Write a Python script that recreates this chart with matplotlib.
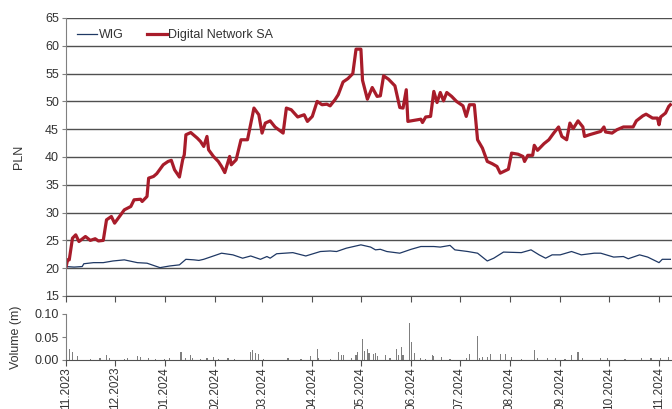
import pandas as pd
import matplotlib
matplotlib.use("Agg")
import matplotlib.pyplot as plt
import matplotlib.dates as mdates

plt.rcParams['font.family'] = ['Liberation Sans', 'DejaVu Sans']

# Digital Network SA (PLN)
dn_dates = [
    "2023-11-01", "2023-11-02", "2023-11-03", "2023-11-05", "2023-11-07", "2023-11-09",
    "2023-11-13", "2023-11-16", "2023-11-19", "2023-11-21", "2023-11-24", "2023-11-26",
    "2023-11-29", "2023-12-01", "2023-12-04", "2023-12-07", "2023-12-11", "2023-12-13",
    "2023-12-17", "2023-12-18", "2023-12-21", "2023-12-22", "2023-12-25", "2023-12-27",
    "2023-12-31", "2024-01-03", "2024-01-05", "2024-01-07", "2024-01-10", "2024-01-12",
    "2024-01-13", "2024-01-14", "2024-01-17", "2024-01-21", "2024-01-23", "2024-01-25",
    "2024-01-27", "2024-01-28", "2024-01-31", "2024-02-03", "2024-02-05", "2024-02-07",
    "2024-02-10", "2024-02-11", "2024-02-14", "2024-02-17", "2024-02-21", "2024-02-25",
    "2024-02-28", "2024-03-01", "2024-03-03", "2024-03-06", "2024-03-09", "2024-03-14",
    "2024-03-16", "2024-03-19", "2024-03-23", "2024-03-27", "2024-03-29", "2024-04-01",
    "2024-04-04", "2024-04-07", "2024-04-10", "2024-04-12", "2024-04-15", "2024-04-17",
    "2024-04-20", "2024-04-23", "2024-04-26", "2024-04-28", "2024-05-01", "2024-05-02",
    "2024-05-05", "2024-05-08", "2024-05-11", "2024-05-13", "2024-05-15", "2024-05-18",
    "2024-05-22", "2024-05-25", "2024-05-27", "2024-05-29", "2024-05-30", "2024-06-07",
    "2024-06-08", "2024-06-10", "2024-06-13", "2024-06-15", "2024-06-17", "2024-06-19",
    "2024-06-21", "2024-06-23", "2024-06-26", "2024-06-29", "2024-07-03", "2024-07-05",
    "2024-07-07", "2024-07-10", "2024-07-12", "2024-07-15", "2024-07-18", "2024-07-21",
    "2024-07-24", "2024-07-26", "2024-07-31", "2024-08-02", "2024-08-06", "2024-08-09",
    "2024-08-10", "2024-08-12", "2024-08-15", "2024-08-16", "2024-08-18", "2024-08-22",
    "2024-08-25", "2024-08-28", "2024-08-31", "2024-09-02", "2024-09-05", "2024-09-07",
    "2024-09-09", "2024-09-12", "2024-09-15", "2024-09-16", "2024-09-19", "2024-09-26",
    "2024-09-28", "2024-09-29", "2024-10-03", "2024-10-06", "2024-10-10", "2024-10-16",
    "2024-10-18", "2024-10-22", "2024-10-24", "2024-10-28", "2024-10-31", "2024-11-01",
    "2024-11-02", "2024-11-05", "2024-11-07", "2024-11-08",
]
dn_values = [
    20.2, 21.5, 21.5, 25.4, 26.0, 24.8,
    25.7, 25.0, 25.3, 24.9, 25.0, 28.7,
    29.3, 28.1, 29.3, 30.5, 31.1, 32.3,
    32.4, 32.0, 32.9, 36.2, 36.5, 37.0,
    38.6, 39.2, 39.4, 37.7, 36.4, 39.5,
    40.4, 44.0, 44.4, 43.4, 42.8, 41.9,
    43.7, 41.3, 40.1, 39.2, 38.3, 37.2,
    40.1, 38.6, 39.5, 43.1, 43.1, 48.8,
    47.6, 44.3, 46.1, 46.5, 45.4, 44.3,
    48.8, 48.5, 47.2, 47.6, 46.4, 47.3,
    50.0, 49.4, 49.5, 49.2, 50.3, 51.2,
    53.5, 54.1, 55.0, 59.4, 59.4, 53.8,
    50.4, 52.5, 50.9, 51.0, 54.6, 54.0,
    52.8, 48.9, 48.8, 52.1, 46.4, 46.8,
    46.2, 47.2, 47.3, 51.8, 49.8, 51.6,
    50.1, 51.6, 50.9, 50.0, 49.2, 47.3,
    49.4, 49.4, 43.1, 41.6, 39.2, 38.8,
    38.3, 37.1, 37.8, 40.7, 40.5, 40.1,
    39.2, 40.3, 40.3, 42.1, 41.2, 42.4,
    43.1, 44.3, 45.4, 43.7, 43.1, 46.1,
    45.1, 46.5, 45.4, 43.7, 44.0, 44.6,
    45.4, 44.5, 44.3, 44.9, 45.4, 45.4,
    46.5, 47.4, 47.7, 47.0, 47.0, 45.8,
    47.2, 47.9, 49.1, 49.4,
]

# WIG rescaled to the same start
wig_dates = [
    "2023-11-01", "2023-11-06", "2023-11-11", "2023-11-12", "2023-11-18", "2023-11-24",
    "2023-11-30", "2023-12-07", "2023-12-15", "2023-12-21", "2023-12-29", "2024-01-04",
    "2024-01-10", "2024-01-14", "2024-01-19", "2024-01-22", "2024-01-25", "2024-01-31",
    "2024-02-05", "2024-02-12", "2024-02-18", "2024-02-23", "2024-02-29", "2024-03-04",
    "2024-03-06", "2024-03-10", "2024-03-20", "2024-03-28", "2024-04-06", "2024-04-12",
    "2024-04-16", "2024-04-22", "2024-05-01", "2024-05-07", "2024-05-10", "2024-05-13",
    "2024-05-17", "2024-05-25", "2024-06-01", "2024-06-07", "2024-06-15", "2024-06-19",
    "2024-06-25", "2024-06-28", "2024-07-06", "2024-07-12", "2024-07-18", "2024-07-22",
    "2024-07-28", "2024-08-08", "2024-08-14", "2024-08-19", "2024-08-23", "2024-08-27",
    "2024-09-01", "2024-09-08", "2024-09-14", "2024-09-22", "2024-09-26", "2024-10-04",
    "2024-10-10", "2024-10-13", "2024-10-20", "2024-10-25", "2024-11-01", "2024-11-03",
    "2024-11-08",
]
wig_values = [
    20.3, 20.2, 20.3, 20.8, 21.0, 21.0,
    21.3, 21.5, 21.0, 20.9, 20.1, 20.4,
    20.6, 21.6, 21.5, 21.4, 21.6, 22.2,
    22.7, 22.4, 21.8, 22.2, 21.6, 22.1,
    21.8, 22.6, 22.8, 22.2, 23.0, 23.1,
    23.0, 23.6, 24.2, 23.8, 23.3, 23.4,
    23.0, 22.7, 23.4, 23.9, 23.9, 23.8,
    24.1, 23.3, 23.0, 22.7, 21.3, 21.8,
    22.9, 22.8, 23.3, 22.4, 21.8, 22.4,
    22.4, 23.0, 22.4, 22.7, 22.7, 22.0,
    22.1, 21.7, 22.4, 22.0, 21.0, 21.6,
    21.6,
]

# Volume (m)
vol_dates = [
    "2023-11-03", "2023-11-05", "2023-11-08", "2023-11-16", "2023-11-22", "2023-11-26",
    "2023-11-28", "2023-12-07", "2023-12-09", "2023-12-15", "2023-12-17", "2023-12-22",
    "2023-12-26", "2024-01-01", "2024-01-04", "2024-01-11", "2024-01-14", "2024-01-17",
    "2024-01-18", "2024-01-23", "2024-01-27", "2024-01-31", "2024-02-03", "2024-02-09",
    "2024-02-13", "2024-02-23", "2024-02-24", "2024-02-26", "2024-02-28", "2024-03-02",
    "2024-03-17", "2024-03-25", "2024-03-31", "2024-04-04", "2024-04-05", "2024-04-12",
    "2024-04-17", "2024-04-19", "2024-04-20", "2024-04-25", "2024-04-28", "2024-04-29",
    "2024-05-02", "2024-05-03", "2024-05-05", "2024-05-06", "2024-05-09", "2024-05-10",
    "2024-05-11", "2024-05-16", "2024-05-19", "2024-05-23", "2024-05-24", "2024-05-26",
    "2024-05-27", "2024-05-31", "2024-06-01", "2024-06-03", "2024-06-07", "2024-06-10",
    "2024-06-14", "2024-06-15", "2024-06-20", "2024-06-25", "2024-07-05", "2024-07-07",
    "2024-07-12", "2024-07-13", "2024-07-15", "2024-07-18", "2024-07-20", "2024-07-26",
    "2024-07-29", "2024-08-02", "2024-08-08", "2024-08-16", "2024-08-18", "2024-08-24",
    "2024-08-29", "2024-09-04", "2024-09-08", "2024-09-12", "2024-09-15", "2024-09-26",
    "2024-09-30", "2024-10-11", "2024-10-21", "2024-10-27", "2024-11-02", "2024-11-07",
]
vol_values = [
    0.025, 0.018, 0.009, 0.003, 0.004, 0.011,
    0.004, 0.003, 0.004, 0.009, 0.006, 0.004,
    0.003, 0.003, 0.004, 0.018, 0.004, 0.011,
    0.005, 0.003, 0.004, 0.007, 0.003, 0.004,
    0.003, 0.018, 0.022, 0.015, 0.013, 0.003,
    0.004, 0.003, 0.009, 0.023, 0.004, 0.003,
    0.017, 0.011, 0.011, 0.004, 0.011, 0.017,
    0.045, 0.019, 0.025, 0.016, 0.014, 0.016,
    0.008, 0.011, 0.004, 0.025, 0.010, 0.028,
    0.010, 0.081, 0.040, 0.016, 0.004, 0.003,
    0.011, 0.008, 0.006, 0.003, 0.004, 0.013,
    0.052, 0.005, 0.007, 0.006, 0.013, 0.013,
    0.013, 0.007, 0.003, 0.022, 0.004, 0.004,
    0.004, 0.003, 0.011, 0.018, 0.004, 0.005,
    0.004, 0.003, 0.004, 0.005, 0.005, 0.006,
]

month_ticks = pd.date_range("2023-11-01", "2024-11-01", freq="MS")
x_start, x_end = pd.Timestamp("2023-11-01"), pd.Timestamp("2024-11-09")

text_col = "#333333"
grid_col = "#505050"

fig = plt.figure(figsize=(6.72, 4.09), dpi=100)
ax = fig.add_axes([66 / 672, 1 - 296 / 409, 1 - 66 / 672, 278 / 409])
axv = fig.add_axes([66 / 672, 1 - 360 / 409, 1 - 66 / 672, 46 / 409])

ax.plot(pd.to_datetime(wig_dates), wig_values, color="#1f3864", lw=0.9, label="WIG")
ax.plot(pd.to_datetime(dn_dates), dn_values, color="#a81c2a", lw=2.3, label="Digital Network SA")

ax.set_ylim(15, 65)
ax.set_yticks(range(15, 70, 5))
ax.set_xlim(x_start, x_end)
ax.set_xticks(month_ticks)
ax.set_xticklabels([])
ax.grid(axis="y", color=grid_col, lw=1)
ax.set_axisbelow(True)
for s in ["top", "right"]:
    ax.spines[s].set_visible(False)
ax.spines["left"].set_color("#808080")
ax.spines["bottom"].set_color(grid_col)
ax.tick_params(axis="y", length=3, color="#808080", labelsize=9, labelcolor=text_col, pad=2)
ax.tick_params(axis="x", length=4, color=grid_col)
ax.set_ylabel("PLN", fontsize=9, color=text_col)
ax.yaxis.set_label_coords(-0.068, 0.5)
ax.legend(loc="upper left", ncol=2, frameon=False, fontsize=9, handlelength=1.6,
          handletextpad=0.1, columnspacing=1.9, bbox_to_anchor=(0.0, 1.0),
          borderaxespad=0.5, labelcolor=text_col)

axv.bar(pd.to_datetime(vol_dates), vol_values, width=0.7, color="#7f7f7f")
axv.set_ylim(0, 0.1)
axv.set_yticks([0, 0.05, 0.10])
axv.set_yticklabels(["0.00", "0.05", "0.10"])
axv.set_xlim(x_start, x_end)
axv.set_xticks(month_ticks)
axv.xaxis.set_major_formatter(mdates.DateFormatter("%m.%Y"))
for s in ["top", "right"]:
    axv.spines[s].set_visible(False)
axv.spines["left"].set_color("#808080")
axv.spines["bottom"].set_color(grid_col)
axv.tick_params(axis="y", length=3, color="#808080", labelsize=9, labelcolor=text_col, pad=2)
axv.tick_params(axis="x", length=4, color=grid_col, labelsize=8.5, labelcolor=text_col,
                rotation=90, pad=1)
axv.set_ylabel("Volume (m)", fontsize=9, color=text_col)
axv.yaxis.set_label_coords(-0.073, 0.5)

fig.savefig("out.png", dpi=100)
